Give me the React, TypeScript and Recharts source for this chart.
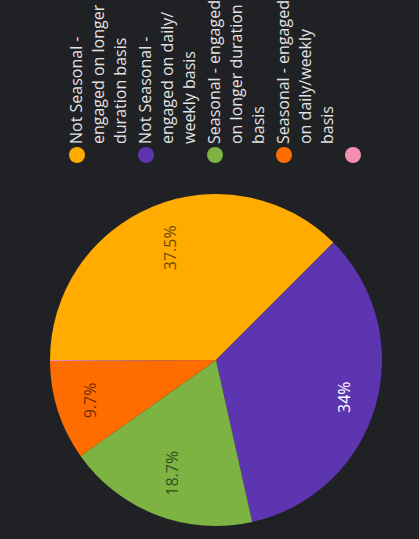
import React from "react";
import { PieChart, Pie, Cell, Legend } from "recharts";

const categories = [
  "Not Seasonal - engaged on longer duration basis",
  "Not Seasonal - engaged on daily/ weekly basis",
  "Seasonal - engaged on longer duration basis",
  "Seasonal - engaged on daily/weekly basis",
  "",
];
const values = [37.5, 34, 18.7, 9.7, 0.1];
const legendLines = [
  ["Not Seasonal -", "engaged on longer", "duration basis"],
  ["Not Seasonal -", "engaged on daily/", "weekly basis"],
  ["Seasonal - engaged", "on longer duration", "basis"],
  ["Seasonal - engaged", "on daily/weekly", "basis"],
  [],
];
const colors = ["#ffab00", "#5e35b1", "#7cb342", "#ff6d00", "#f48fb1"];
const labelColors = ["rgba(0,0,0,0.6)", "#ffffff", "rgba(0,0,0,0.6)", "rgba(0,0,0,0.6)", "rgba(0,0,0,0.6)"];

const data = categories.map((name, i) => ({ name, value: values[i] }));

const BG = "#202124";
const FONT = "'Open Sans', sans-serif";
const RAD = Math.PI / 180;
const LABEL_SIZE = 16;

const charWidth = (c: string) => {
  if (c === ".") return 0.266;
  if (c === "%") return 0.823;
  return 0.572;
};

const renderLabel = (props: any) => {
  const { cx, cy, midAngle, outerRadius, index } = props;
  if (values[index] < 1) return null;
  const txt = `${values[index]}%`;
  const w = txt.split("").reduce((s, c) => s + charWidth(c), 0) * LABEL_SIZE;
  const h = LABEL_SIZE;
  const ca = Math.cos(-midAngle * RAD);
  const sa = Math.sin(-midAngle * RAD);
  const ext = Math.abs(ca) * (w / 2) + Math.abs(sa) * (h / 2);
  const r = outerRadius * 0.875 - ext;
  const x = cx + r * ca;
  const y = cy + r * sa;
  return (
    <text
      x={x}
      y={y}
      fill={labelColors[index]}
      textAnchor="middle"
      dominantBaseline="central"
      fontSize={LABEL_SIZE}
      fontFamily={FONT}
    >
      {txt}
    </text>
  );
};

const renderLegend = () => (
  <div style={{ fontFamily: FONT, fontSize: 16, color: "#e3e3e3" }}>
    {legendLines.map((lines, i) => (
      <div
        key={i}
        style={{ display: "flex", alignItems: "flex-start", height: 69 }}
      >
        <div
          style={{
            width: 16,
            height: 16,
            borderRadius: "50%",
            background: colors[i],
            marginTop: 4,
            marginRight: 3,
            flex: "none",
          }}
        />
        <div style={{ lineHeight: "22px" }}>
          {lines.map((l, j) => (
            <div key={j} style={{ whiteSpace: "nowrap" }}>
              {l}
            </div>
          ))}
        </div>
      </div>
    ))}
  </div>
);

export default function App() {
  return (
    <div
      style={{
        position: "fixed",
        left: 0,
        top: 0,
        width: 419,
        height: 539,
        background: BG,
        overflow: "hidden",
      }}
    >
      <div
        style={{
          position: "absolute",
          left: 0,
          top: 0,
          width: 539,
          height: 419,
          transformOrigin: "top left",
          transform: "translateY(539px) rotate(-90deg)",
        }}
      >
        <PieChart width={539} height={419} margin={{ top: 0, right: 0, bottom: 0, left: 0 }}>
          <Pie
            data={data}
            dataKey="value"
            nameKey="name"
            cx={179}
            cy={216}
            outerRadius={166}
            startAngle={90}
            endAngle={-270}
            stroke="none"
            label={renderLabel}
            labelLine={false}
            isAnimationActive={false}
          >
            {data.map((d, i) => (
              <Cell key={i} fill={colors[i]} />
            ))}
          </Pie>
          <Legend
            content={renderLegend}
            layout="vertical"
            verticalAlign="top"
            align="right"
            wrapperStyle={{ position: "absolute", left: 376, top: 65, width: 163 }}
          />
        </PieChart>
      </div>
    </div>
  );
}
